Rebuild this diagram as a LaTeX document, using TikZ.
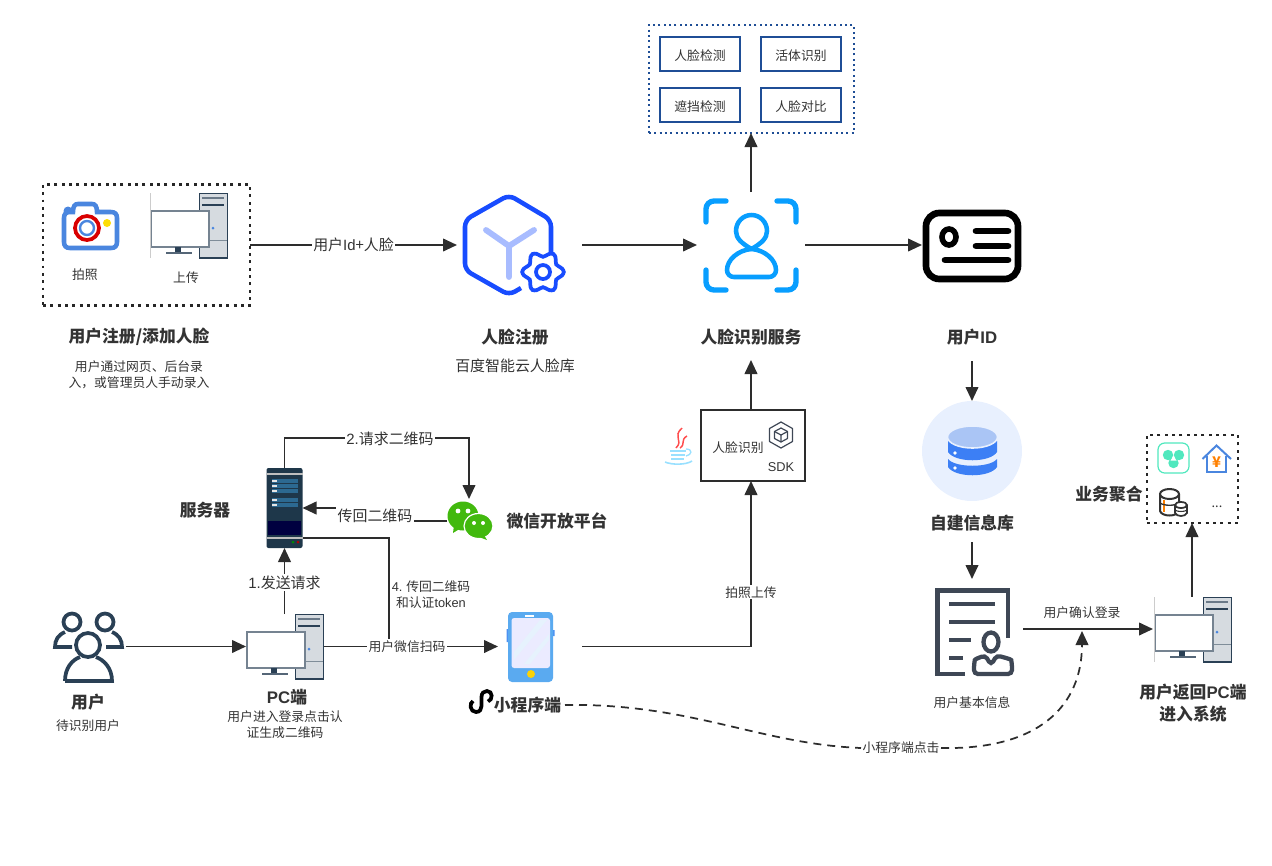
\documentclass[tikz,border=0pt]{standalone}
\usepackage{fontspec}
\setmainfont{Noto Sans CJK SC}
\newfontfamily\lat{Liberation Sans}
\usetikzlibrary{arrows.meta,positioning,calc}
\definecolor{inkgray}{RGB}{51,51,51}
\definecolor{lineblack}{RGB}{45,45,45}
\definecolor{boxblue}{RGB}{31,78,150}
\definecolor{brandblue}{RGB}{24,76,255}
\definecolor{softblue}{RGB}{168,188,255}
\definecolor{faceblue}{RGB}{8,158,255}
\definecolor{camblue}{RGB}{74,134,223}
\definecolor{towergray}{RGB}{214,219,224}
\definecolor{towerdark}{RGB}{42,64,85}
\definecolor{srvdark}{RGB}{30,55,74}
\definecolor{srvslot}{RGB}{44,105,145}
\definecolor{wxgreen}{RGB}{66,185,14}
\definecolor{phoneblue}{RGB}{90,170,240}
\definecolor{dbcircle}{RGB}{232,240,254}
\definecolor{dbtop}{RGB}{170,197,245}
\definecolor{dbblue}{RGB}{60,127,245}
\definecolor{docgray}{RGB}{62,71,85}
\definecolor{mint}{RGB}{80,232,190}
\tikzset{
  slot/.style 2 args={inner sep=0pt, outer sep=0pt, minimum width=#1*0.75pt, minimum height=#2*0.75pt},
  link/.style={draw=lineblack, line width=1.4pt, -{Triangle[length=10.5pt,width=9.5pt]}},
  dashlink/.style={link, dash pattern=on 6pt off 4.5pt},
  dotbox/.style={draw=black!85, line width=2.2pt, dash pattern=on 2.2pt off 3.3pt},
  bluebox/.style={draw=boxblue, line width=1.6pt, dash pattern=on 1.6pt off 2.4pt},
  small/.style={text=inkgray, font=\fontsize{9.6pt}{12pt}\selectfont, align=center, inner sep=1pt},
  mid/.style={text=inkgray, font=\fontsize{11.2pt}{14pt}\selectfont, align=center, inner sep=1pt},
  title/.style={text=inkgray, font=\fontsize{12.6pt}{16pt}\selectfont\bfseries, align=center},
  tag/.style={fill=white},
  checkbox/.style={slot={80}{34}, draw=boxblue, line width=1.5pt, text=inkgray, text height=10.2pt, text depth=0pt, font=\fontsize{9.6pt}{12pt}\selectfont},
  pcset/.pic={
    \draw[towerdark, line width=.7pt, fill=towergray] (49,0) rectangle (77,65);
    \draw[towerdark!70, line width=.8pt] (52,5) -- (74,5);
    \draw[towerdark, line width=2pt] (52,12) -- (74,12);
    \draw[towerdark!60, line width=.7pt] (49,47) -- (77,47);
    \draw[towerdark, line width=1.4pt] (49,64.5) -- (77,64.5);
    \fill[camblue] (63,35) circle (1.5);
    \draw[towerdark!65, line width=1pt, fill=white] (1,18) rectangle (59,54);
    \fill[towerdark] (25,54) rectangle (31,59);
    \draw[towerdark!80, line width=1pt] (16,60) -- (42,60);
  }
}
\begin{document}
\begin{tikzpicture}[x=0.75pt, y=-0.75pt]
  \useasboundingbox (0,0) rectangle (1272,865);
  % Nodes of the top row
  \node[slot={207}{121}, dotbox] (uploadbox) at (146.5,245) {};
  \node[slot={125}{100}] (regicon) at (519.5,245) {};
  \node[slot={108}{106}] (faceicon) at (751,245) {};
  \node[slot={100}{80}] (cardicon) at (972,245) {};
  \node[slot={205}{108}, bluebox] (checkarea) at (751.5,79) {};
  \node[checkbox] (chkface) at (700,54) {人脸检测};
  \node[checkbox] (chklive) at (801,54) {活体识别};
  \node[checkbox] (chkmask) at (700,105) {遮挡检测};
  \node[checkbox] (chkcomp) at (801,105) {人脸对比};
  % Titles
  \node[small] (shoot) at (85,275) {拍照};
  \node[small] (upload) at (186,278) {上传};
  \node[title] (regtitle) at (139,337) {用户注册/添加人脸};
  \node[small] (regnote) at (139,375) {用户通过网页、后台录\\入，或管理员人手动录入};
  \node[title] (facereg) at (515,337) {人脸注册};
  \node[mid] (facelib) at (515,366) {百度智能云人脸库};
  \node[title, slot={110}{46}] (facesvc) at (751,337) {人脸识别服务};
  \node[title, slot={60}{48}] (uid) at (972,337) {用户{\lat\bfseries ID}};
  % Middle and bottom nodes
  \node[slot={100}{100}, circle, fill=dbcircle] (dbicon) at (972,451) {};
  \node[title, slot={90}{38}] (dbname) at (972,523) {自建信息库};
  \node[slot={102}{100}] (docicon) at (972,629) {};
  \node[small] (docname) at (972,703) {用户基本信息};
  \node[slot={78}{65}] (pcback) at (1192,629) {};
  \node[title] (backname) at (1193,703) {用户返回{\lat\bfseries PC}端\\进入系统};
  \node[slot={91}{88}, dotbox] (bizbox) at (1192.5,479) {};
  \node[title] (bizname) at (1109,494) {业务聚合};
  \node[slot={104}{71}, draw=lineblack, line width=1.3pt] (sdkbox) at (753,445.5) {};
  \node[small] (sdkname) at (738,448) {人脸识别};
  \node[small] (sdktext) at (781,467) {\lat SDK};
  \node[slot={72}{72}] (users) at (90,646.5) {};
  \node[title] (usersname) at (88,702) {用户};
  \node[small] (usersnote) at (88,726) {待识别用户};
  \node[slot={77}{65}] (pcfront) at (284.5,646.5) {};
  \node[title] (pcname) at (287,697) {{\lat\bfseries PC}端};
  \node[small] (pcnote) at (285,725) {用户进入登录点击认\\证生成二维码};
  \node[slot={36}{80}] (server) at (284.5,508) {};
  \node[title] (srvname) at (205,510) {服务器};
  \node[slot={46}{44}] (wechat) at (470,521) {};
  \node[title] (wxname) at (557,521) {微信开放平台};
  \node[slot={84}{71}] (phone) at (540,646.5) {};
  \node[title, slot={75}{20}] (mininame) at (527.5,705) {小程序端};
  \node[small, tag] (clicktag) at (901,748) {小程序端点击};
  \coordinate (loginpt) at (1082,631);
  \coordinate (wxturn) at (469,438);
  \coordinate (backturn) at (375,508);
  \coordinate (srvout) at (302.5,538);
  \coordinate (joinpt) at (389,646.5);
  % Connectors
  \draw[link] (uploadbox.east) -- node[mid, tag] (idtag) {用户{\lat Id}+人脸} (regicon.west);
  \draw[link] (regicon.east) -- (faceicon.west);
  \draw[link] (faceicon.east) -- (cardicon.west);
  \draw[link] (faceicon.north) -- (faceicon.north |- checkarea.south);
  \draw[link] (uid.south) -- (dbicon.north);
  \draw[link] (dbname.south) -- (docicon.north);
  \draw[link] (docicon.east) -- (pcback.west);
  \node[small] (logintag) at (1082,613) {用户确认登录};
  \draw[link] (pcback.north) -- (pcback.north |- bizbox.south);
  \draw[link] (users.east) -- (pcfront.west);
  \draw[link] (pcfront.north) -- node[mid, tag, pos=.48] (sendtag) {{\lat 1.}发送请求} (server.south);
  \draw[link] (server.north) |- (wxturn) -- (wxturn |- wechat.north);
  \node[mid, tag] (asktag) at (390,439) {{\lat 2.}请求二维码};
  \draw[link] (wechat.west) -| (backturn) -- (server.east);
  \node[mid, tag, minimum height=16.5pt] (backtag) at (375,516) {传回二维码};
  \draw[lineblack, line width=1.4pt] (srvout) -| (joinpt);
  \node[small] (tokentag) at (431,595) {{\lat 4.} 传回二维码\\和认证{\lat token}};
  \draw[link] (pcfront.east) -- node[small, tag, pos=.48] (scantag) {用户微信扫码} (phone.west);
  \draw[link] (phone.east) -| node[small, tag, pos=.664] (shottag) {拍照上传} (facesvc.south |- sdkbox.south);
  \draw[link] (facesvc.south |- sdkbox.north) -- (facesvc.south);
  \draw[lineblack, line width=1.3pt, dash pattern=on 6pt off 4.5pt] (mininame.east) .. controls (690,703) and (760,744) .. (clicktag.west);
  \draw[dashlink, line width=1.3pt] (clicktag.east) .. controls (1040,750) and (1082,705) .. (loginpt);
  % Camera
  \fill[camblue] (68,211) circle (4.5);
  \draw[camblue, line width=3.4pt, fill=white]
    (64,218) .. controls (64,214) and (66,212) .. (70,212) -- (73,212) .. controls (73,206) and (75,204) .. (78,204)
    -- (92,204) .. controls (95,204) and (97,206) .. (97,212) -- (111,212) .. controls (115,212) and (117,214) .. (117,218)
    -- (117,242) .. controls (117,246) and (115,248) .. (111,248) -- (70,248) .. controls (66,248) and (64,246) .. (64,242) -- cycle;
  \draw[red!85!black, line width=2.8pt] (87,228) circle (12);
  \draw[camblue, line width=1.8pt] (87,228) circle (7);
  \fill[yellow!80!orange] (107,223) circle (4);
  % Computers
  \pic at (150,193) {pcset};
  \pic at (246,614) {pcset};
  \pic at (1154,597) {pcset};
  \draw[gray!40, line width=.4pt] (150.5,193) -- (150.5,258);
  \draw[gray!40, line width=.4pt] (1154.5,597) -- (1154.5,662);
  % Face registry icon
  \draw[brandblue, line width=3.4pt, rounded corners=5pt, line cap=butt]
    (551,252) -- (551,220) -- (509,195) -- (465,220) -- (465,270) -- (509,295) -- (521,288);
  \draw[softblue, line width=4.4pt, line cap=round] (486,230) -- (509,246) -- (534,230) (509,246) -- (509,277);
  \draw[brandblue, line width=2.8pt, fill=white] plot[smooth cycle, domain=0:350, samples=36, variable=\t]
    ({543+(18+2.8*cos(6*\t))*cos(\t)},{272+(18+2.8*cos(6*\t))*sin(\t)});
  \draw[brandblue, line width=2.8pt] (543,272) circle (7);
  % Face service icon
  \begin{scope}[faceblue, line width=4pt, line cap=round]
    \draw[rounded corners=6pt] (706,222) -- (706,201) -- (726,201);
    \draw[rounded corners=6pt] (777,201) -- (796,201) -- (796,222);
    \draw[rounded corners=6pt] (706,270) -- (706,290) -- (726,290);
    \draw[rounded corners=6pt] (777,290) -- (796,290) -- (796,270);
    \draw[line width=3.4pt] (751.5,249) .. controls (741,243) and (736,238) .. (736,231)
      .. controls (736,222) and (743,215) .. (751.5,215) .. controls (760,215) and (767,222) .. (767,231)
      .. controls (767,238) and (762,243) .. (751.5,249);
    \draw[line width=3.4pt] (751.5,249) .. controls (738,250) and (727,260) .. (727,270)
      .. controls (727,274) and (730,277) .. (734,277) -- (769,277)
      .. controls (773,277) and (776,274) .. (776,270) .. controls (776,260) and (765,250) .. (751.5,249);
  \end{scope}
  % ID card icon
  \draw[black, line width=5pt, rounded corners=10pt] (926,213) rectangle (1018,279);
  \draw[black, line width=4.2pt] (949,237) ellipse (7 and 8);
  \draw[black, line width=5pt, line cap=round] (976,231) -- (1008,231) (976,246) -- (1008,246) (945,260) -- (1008,260);
  % Database icon
  \fill[dbblue] (948,441) -- (997,441) -- (997,452) .. controls (990,463) and (955,463) .. (948,452) -- cycle;
  \fill[dbblue] (948,459) .. controls (955,468) and (990,468) .. (997,459) -- (997,467) .. controls (990,478) and (955,478) .. (948,467) -- cycle;
  \fill[dbtop, draw=dbcircle, line width=1.2pt] (972.5,437) ellipse (25 and 11);
  \fill[white] (955,453) circle (1.8) (955,468) circle (1.8);
  % Document icon
  \draw[docgray, line width=3.6pt] (1008,638) -- (1008,590.5) -- (937.5,590.5) -- (937.5,674) -- (965,674);
  \draw[docgray, line width=3pt] (949,604) -- (995,604) (949,622) -- (995,622) (949,640) -- (971,640) (949,658) -- (963,658);
  \draw[docgray, line width=3.2pt] (991,642) ellipse (7.5 and 9.5);
  \draw[docgray, line width=3.2pt, rounded corners=3pt] (974,674) -- (974,664) .. controls (975,659) and (981,657) .. (985,655)
    -- (991,665) -- (997,655) .. controls (1002,657) and (1011,659) .. (1012,664) -- (1012,674) -- cycle;
  % Users icon
  \begin{scope}[towerdark, line width=2.8pt]
    \draw (72,622) circle (8.5) (105,622) circle (8.5);
    \draw (65,632) .. controls (58,635) and (55,640) .. (55,647) -- (72,647);
    \draw (112,632) .. controls (119,635) and (122,640) .. (122,647) -- (106,647);
    \draw (88,645) circle (12);
    \draw (65,681) .. controls (65,668) and (72,660) .. (80,657) (96,657) .. controls (104,660) and (112,668) .. (112,681) -- (65,681);
  \end{scope}
  % Server icon
  \fill[srvdark, rounded corners=1.5pt] (266.5,468) rectangle (302.5,548);
  \draw[gray!50, line width=1pt] (266.5,474) -- (302.5,474) (266.5,538) -- (302.5,538);
  \foreach \y in {481,486,491,500,505}
    \fill[srvslot] (272,\y-2) rectangle (298,\y+2);
  \foreach \y in {481,486,491,500,505}
    \fill[gray!20] (272,\y-.6) rectangle (277,\y+.6);
  \fill[black!75!blue] (268,521) rectangle (301,535);
  \fill[green!55!black] (293,542) circle (1.5);
  \fill[red!70!black] (298,542) circle (1.5);
  % WeChat icon
  \fill[wxgreen] (463,516) ellipse (15.5 and 14.5);
  \fill[wxgreen] (454,525) -- (453,533) -- (461,528) -- cycle;
  \fill[wxgreen, draw=white, line width=.9pt] (478.5,526) ellipse (14.5 and 12.5);
  \fill[wxgreen] (484,535) -- (487,540) -- (479,537) -- cycle;
  \fill[white] (458,511) circle (2.4) (468,511) circle (2.4) (474,523) circle (2) (483,523) circle (2);
  % Phone icon
  \fill[phoneblue!85!blue] (506.5,629) rectangle (510,642) (552,630) rectangle (554.5,636);
  \fill[phoneblue, rounded corners=3pt] (508,612) rectangle (553,682);
  \fill[blue!8!white, rounded corners=2pt] (511.5,618) rectangle (550,668);
  \fill[white!85!phoneblue] (514,652) -- (540,620) -- (547,620) -- (514,660) -- cycle;
  \fill[white!85!phoneblue] (524,664) -- (549,634) -- (549,640) -- (530,664) -- cycle;
  \fill[white] (525,615) rectangle (534,616.5);
  \fill[yellow!70!orange] (531,674) circle (4);
  % Mini program logo
  \draw[black, line width=2.8pt] (473,701) .. controls (469,703) and (470,712) .. (476,712)
    .. controls (480,712) and (481.5,709) .. (481.5,706) -- (481.5,697)
    .. controls (481.5,693) and (484,691) .. (487,691) .. controls (493,691) and (493,700) .. (488,701.5);
  % Java logo
  \draw[red!70, line width=1.1pt] (682,428) .. controls (672,437) and (684,440) .. (676,448);
  \draw[red!70, line width=1.1pt] (687,436) .. controls (680,440) and (686,444) .. (680,448);
  \draw[blue!30!cyan!40, line width=1.2pt] (670,451) -- (686,451) (671,455) -- (685,455) (671,459) -- (684,459);
  \draw[blue!30!cyan!40, line width=1.2pt] (665,462) .. controls (672,465) and (686,465) .. (692,461);
  \draw[blue!30!cyan!40, line width=1pt] (686,449) .. controls (693,449) and (692,455) .. (686,456);
  % SDK cube
  \begin{scope}[docgray, line width=.9pt, line join=round]
    \draw (781,422) -- (792.5,428.5) -- (792.5,441.5) -- (781,448) -- (769.5,441.5) -- (769.5,428.5) -- cycle;
    \draw (781,428) -- (787.5,431.5) -- (787.5,438.5) -- (781,442) -- (774.5,438.5) -- (774.5,431.5) -- cycle;
    \draw (774.5,431.5) -- (781,435) -- (787.5,431.5) (781,435) -- (781,442);
  \end{scope}
  % Business icons
  \draw[mint, line width=.9pt, fill=white, rounded corners=5pt] (1158,443) rectangle (1189,473);
  \fill[mint] (1168,455) circle (5.2) (1179,455) circle (5.2) (1173.5,463) circle (5.2);
  \fill[white] (1173.5,456) -- (1176.5,460.5) -- (1170.5,460.5) -- cycle;
  \draw[camblue, line width=1.5pt] (1202.5,459) -- (1216.5,445.5) -- (1231,459);
  \draw[camblue, line width=1.5pt] (1207,456) -- (1207,471.5) -- (1226,471.5) -- (1226,456);
  \node[text=orange, font=\fontsize{11pt}{12pt}\selectfont\bfseries, inner sep=0pt] (yensign) at (1216.5,462) {¥};
  \draw[black!80, line width=1.5pt, fill=white] (1160,494) -- (1160,511) .. controls (1162,517) and (1177,517) .. (1179,511) -- (1179,494);
  \draw[black!80, line width=1.5pt, fill=white] (1169.5,494) ellipse (9.5 and 5);
  \draw[orange, line width=1pt] (1164,500) -- (1164,512);
  \draw[black!80, line width=1pt] (1160,503) .. controls (1164,506) and (1175,506) .. (1179,503);
  \draw[black!80, line width=1.3pt, fill=white] (1175,505) -- (1175,513) .. controls (1177,517) and (1185,517) .. (1187,513) -- (1187,505);
  \draw[black!80, line width=1.3pt, fill=white] (1181,505) ellipse (6 and 3);
  \draw[black!80, line width=.8pt] (1175,510) .. controls (1177,512) and (1185,512) .. (1187,510);
  \node[small] (bizmore) at (1217,507) {...};
\end{tikzpicture}
\end{document}
